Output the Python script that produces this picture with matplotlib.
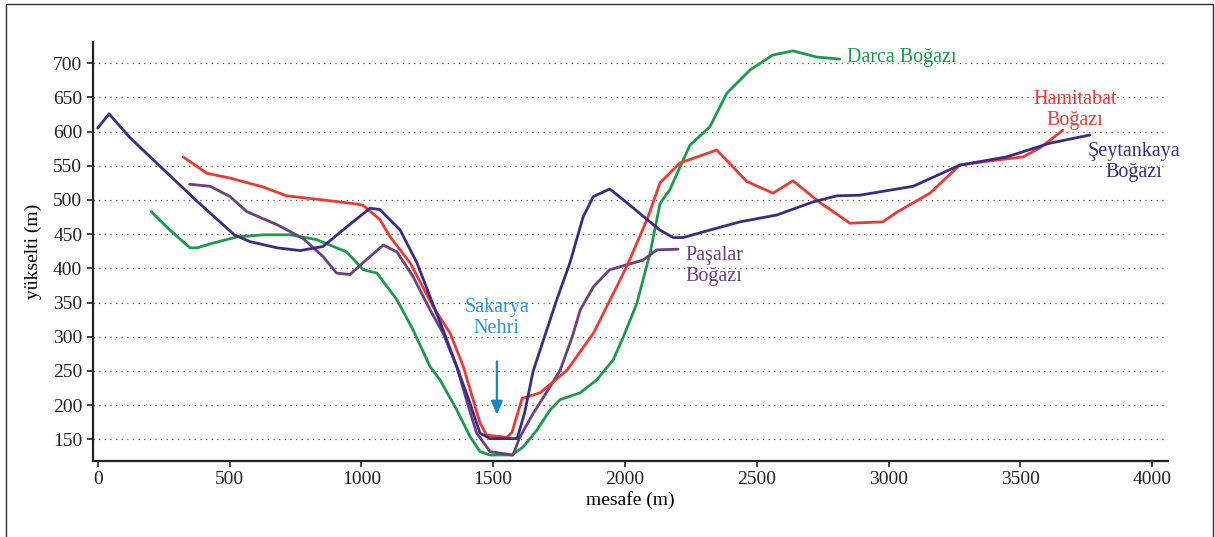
import matplotlib
matplotlib.use('Agg')
import matplotlib.pyplot as plt
from matplotlib.patches import Rectangle

plt.rcParams['font.family'] = ['Liberation Serif', 'DejaVu Serif']

# profil verileri: mesafe (m), yükselti (m)
seytankaya_x = [0, 43, 120, 237, 380, 518, 578, 680, 768, 855, 930, 1033, 1070,
                1147, 1211, 1261, 1310, 1362, 1410, 1450, 1488, 1591, 1620, 1651,
                1741, 1791, 1841, 1880, 1942, 2007, 2132, 2183, 2220, 2322, 2436,
                2576, 2712, 2803, 2891, 3093, 3270, 3448, 3611, 3763]
seytankaya_y = [605, 626, 592, 549, 497, 449, 439, 430, 426, 432, 456, 488, 486,
                456, 408, 358, 310, 256, 205, 159, 151, 151, 190, 249,
                354, 408, 475, 505, 516, 496, 456, 445, 445, 456, 468,
                478, 497, 506, 507, 520, 551, 563, 583, 595]

hamitabat_x = [324, 414, 502, 627, 717, 855, 983, 1007, 1071, 1109, 1185, 1272,
               1337, 1387, 1450, 1475, 1552, 1571, 1610, 1678, 1780, 1880, 2007,
               2083, 2133, 2208, 2348, 2462, 2561, 2637, 2740, 2853, 2978, 3035,
               3157, 3270, 3384, 3510, 3573, 3661]
hamitabat_y = [563, 539, 532, 519, 506, 500, 494, 492, 471, 446, 408, 344,
               305, 256, 174, 156, 153, 160, 210, 218, 251, 305, 403,
               471, 525, 554, 573, 527, 510, 528, 496, 466, 468, 483,
               510, 551, 557, 563, 576, 602]

darca_x = [203, 274, 350, 377, 438, 529, 627, 730, 830, 944, 1007, 1059, 1135,
           1196, 1261, 1298, 1362, 1412, 1450, 1488, 1571, 1614, 1665, 1716,
           1754, 1830, 1893, 1955, 1994, 2045, 2095, 2133, 2170, 2246, 2322,
           2386, 2474, 2561, 2637, 2727, 2815]
darca_y = [483, 456, 430, 430, 437, 446, 449, 449, 442, 424, 398, 393, 354,
           310, 256, 237, 193, 154, 132, 127, 127, 139, 163, 193,
           208, 218, 237, 266, 300, 349, 422, 495, 515, 580, 607,
           656, 690, 712, 718, 709, 706]

pasalar_x = [348, 426, 502, 565, 679, 778, 855, 906, 957, 1020, 1083, 1135,
             1196, 1261, 1310, 1362, 1399, 1437, 1488, 1575, 1601, 1652, 1716,
             1754, 1800, 1830, 1880, 1942, 2068, 2121, 2201]
pasalar_y = [523, 520, 505, 483, 464, 444, 417, 393, 391, 413, 434, 424,
             388, 339, 305, 256, 207, 159, 132, 127, 153, 188, 227,
             251, 300, 339, 373, 398, 412, 427, 428]

x_ticks = [0, 500, 1000, 1500, 2000, 2500, 3000, 3500, 4000]
y_ticks = [150, 200, 250, 300, 350, 400, 450, 500, 550, 600, 650, 700]

c_seytankaya = '#3b2b86'
c_hamitabat = '#ea3a32'
c_darca = '#1b9a4a'
c_pasalar = '#6c3f80'
c_nehir = '#2a96cf'

fig = plt.figure(figsize=(12.15, 5.37), dpi=100)
ax = fig.add_axes([0.0763, 0.1421, 0.8847, 0.7797])

lw = 2.0
style = dict(lw=lw, solid_capstyle='round', solid_joinstyle='round')
ax.plot(darca_x, darca_y, color=c_darca, **style)
ax.plot(pasalar_x, pasalar_y, color=c_pasalar, **style)
ax.plot(hamitabat_x, hamitabat_y, color=c_hamitabat, **style)
ax.plot(seytankaya_x, seytankaya_y, color=c_seytankaya, **style)

ax.set_xlim(-19, 4058)
ax.set_ylim(118.7, 731)
ax.set_xticks(x_ticks)
ax.set_yticks(y_ticks)
ax.tick_params(direction='out', length=4, width=1.2, labelsize=14, colors='#222222')
for s in ['top', 'right']:
    ax.spines[s].set_visible(False)
for s in ['left', 'bottom']:
    ax.spines[s].set_linewidth(1.6)
    ax.spines[s].set_color('#222222')
ax.yaxis.grid(True, linestyle=(0, (1, 3.5)), color='#555555', lw=0.9)
ax.set_axisbelow(True)

ax.set_xlabel('mesafe (m)', fontsize=14, labelpad=2)
ax.set_ylabel('yükselti (m)', fontsize=14, labelpad=8)

# seri etiketleri
fs = 14.5
ax.text(2841, 709, 'Darca Boğazı', color=c_darca, fontsize=fs, ha='left', va='center')
ax.text(3706, 632, 'Hamitabat\nBoğazı', color=c_hamitabat, fontsize=fs,
        ha='center', va='center', linespacing=1.15)
ax.text(3930, 556, 'Şeytankaya\nBoğazı', color=c_seytankaya, fontsize=fs,
        ha='center', va='center', linespacing=1.15)
ax.text(2231, 403, 'Paşalar\nBoğazı', color=c_pasalar, fontsize=fs,
        ha='left', va='center', linespacing=1.15)
ax.text(1514, 328, 'Sakarya\nNehri', color=c_nehir, fontsize=fs,
        ha='center', va='center', linespacing=1.15)
ax.annotate('', xy=(1514, 182), xytext=(1514, 268),
            arrowprops=dict(arrowstyle='-|>,head_width=0.35,head_length=0.8',
                            color='#1a86c2', lw=1.6))

# çerçeve
fig.patches.append(Rectangle((6 / 1215, -0.02), 1207 / 1215, 1.0 - 4 / 537 + 0.02,
                             transform=fig.transFigure, fill=False,
                             edgecolor='#333333', lw=1.0))

fig.savefig('out.png', dpi=100)
